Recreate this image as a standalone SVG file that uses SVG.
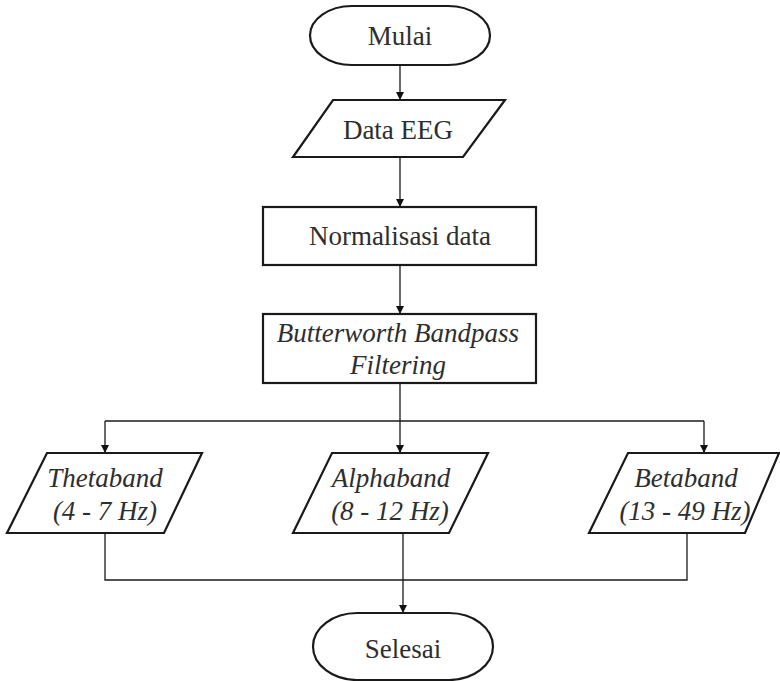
<svg xmlns="http://www.w3.org/2000/svg" width="780" height="681" viewBox="0 0 780 681">
  <defs>
    <marker id="arrow" viewBox="0 0 10 10" refX="10" refY="5" markerWidth="9" markerHeight="8" markerUnits="userSpaceOnUse" orient="auto">
      <path d="M0,0 L10,5 L0,10 z" fill="#111"/>
    </marker>
    <style>
      .shape { fill: #fff; stroke: #1a1a1a; stroke-width: 2.2; }
      .conn { fill: none; stroke: #1a1a1a; stroke-width: 1.3; }
      .label { font-family: "Liberation Serif", "Times New Roman", serif; font-size: 27px; fill: #2e2e2e; text-anchor: middle; }
      .it { font-style: italic; }
    </style>
  </defs>

  <rect width="780" height="681" fill="#fff"/>

  <!-- connectors -->
  <g id="connectors">
    <line class="conn" x1="400" y1="65" x2="400" y2="100" marker-end="url(#arrow)"/>
    <line class="conn" x1="400" y1="157" x2="400" y2="207" marker-end="url(#arrow)"/>
    <line class="conn" x1="400" y1="265" x2="400" y2="314" marker-end="url(#arrow)"/>
    <line class="conn" x1="400" y1="383" x2="400" y2="453" marker-end="url(#arrow)"/>
    <line class="conn" x1="105" y1="421" x2="704" y2="421"/>
    <line class="conn" x1="105" y1="421" x2="105" y2="453" marker-end="url(#arrow)"/>
    <line class="conn" x1="704" y1="421" x2="704" y2="453" marker-end="url(#arrow)"/>
    <polyline class="conn" points="105,533 105,580 687,580 687,533"/>
    <line class="conn" x1="403" y1="533" x2="403" y2="613" marker-end="url(#arrow)"/>
  </g>

  <!-- start -->
  <g id="node-mulai">
    <rect class="shape" x="310" y="6" width="180" height="59" rx="42" ry="29.5"/>
    <text class="label" x="400" y="45">Mulai</text>
  </g>

  <!-- input data -->
  <g id="node-data-eeg">
    <polygon class="shape" points="333,100 505,100 463,157 293,157"/>
    <text class="label" x="398" y="139">Data EEG</text>
  </g>

  <!-- normalisation -->
  <g id="node-normalisasi">
    <rect class="shape" x="263" y="207" width="273" height="58"/>
    <text class="label" x="400" y="245">Normalisasi data</text>
  </g>

  <!-- bandpass filter -->
  <g id="node-butterworth">
    <rect class="shape" x="263" y="314" width="273" height="69"/>
    <text class="label it" x="398" y="342">Butterworth Bandpass</text>
    <text class="label it" x="398" y="374">Filtering</text>
  </g>

  <!-- frequency bands -->
  <g id="node-theta">
    <polygon class="shape" points="47,453 202,453 164,533 7,533"/>
    <text class="label it" x="105" y="487">Thetaband</text>
    <text class="label it" x="105" y="520">(4 - 7 Hz)</text>
  </g>

  <g id="node-alpha">
    <polygon class="shape" points="332,453 488,453 449,533 293,533"/>
    <text class="label it" x="391" y="487">Alphaband</text>
    <text class="label it" x="390" y="520">(8 - 12 Hz)</text>
  </g>

  <g id="node-beta">
    <polygon class="shape" points="628,453 779,453 745,533 589,533"/>
    <text class="label it" x="686" y="487">Betaband</text>
    <text class="label it" x="685" y="520">(13 - 49 Hz)</text>
  </g>

  <!-- end -->
  <g id="node-selesai">
    <rect class="shape" x="313" y="613" width="180" height="67" rx="44" ry="33.5"/>
    <text class="label" x="403" y="658">Selesai</text>
  </g>
</svg>
